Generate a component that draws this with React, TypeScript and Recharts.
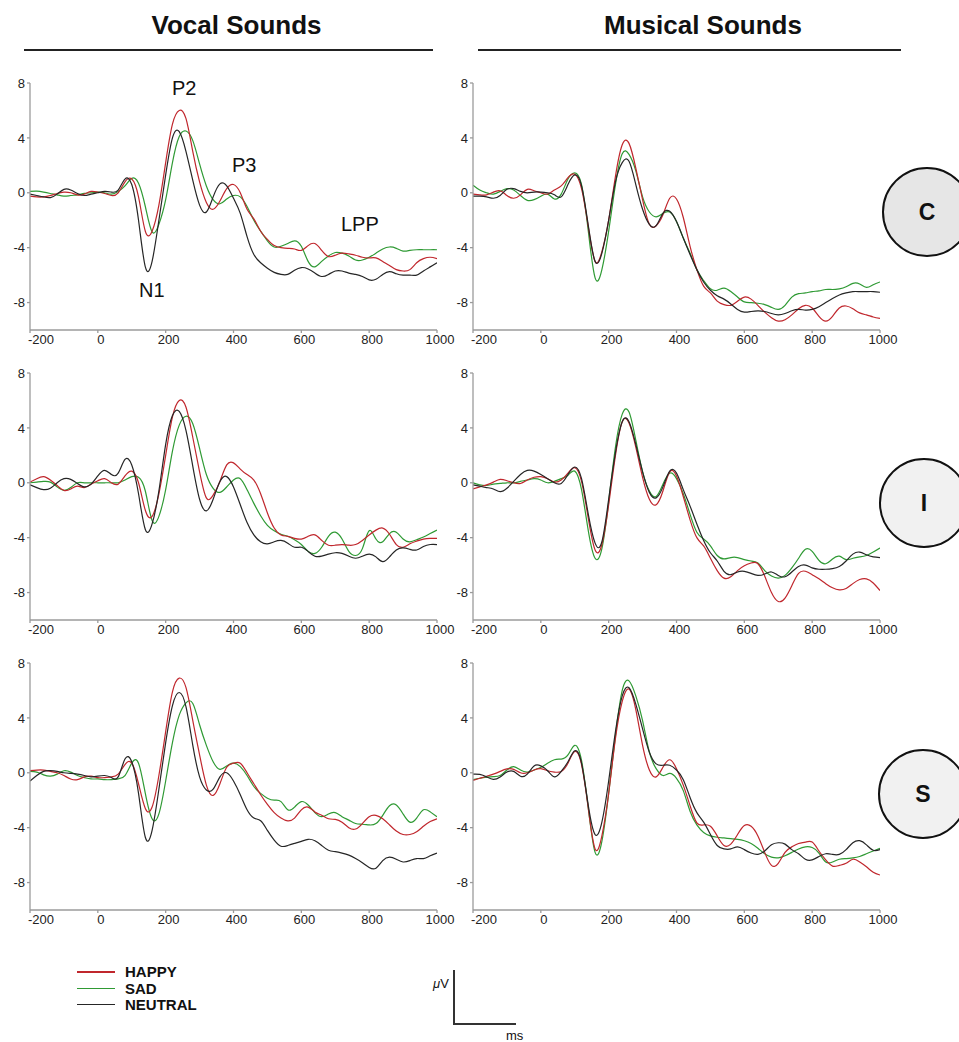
import { LineChart, Line, XAxis, YAxis } from 'recharts'

// time axis (ms), sampled every 20 ms
const TIMES = [
  -200, -180, -160, -140, -120, -100, -80, -60, -40, -20,
  0, 20, 40, 60, 80, 100, 120, 140, 160, 180,
  200, 220, 240, 260, 280, 300, 320, 340, 360, 380,
  400, 420, 440, 460, 480, 500, 520, 540, 560, 580,
  600, 620, 640, 660, 680, 700, 720, 740, 760, 780,
  800, 820, 840, 860, 880, 900, 920, 940, 960, 980, 1000,
]
const X_TICKS = [-200, 0, 200, 400, 600, 800, 1000]
const Y_TICKS = [-8, -4, 0, 4, 8]

// Vocal – C
const VOCAL_C_HAPPY = [
  -0.25, -0.3, -0.3, -0.2, -0.05, 0.05, 0.0, -0.15, -0.1, 0.1,
  0.05, -0.05, -0.2, 0.0, 0.8, 1.0, -0.3, -2.8, -2.8, -0.9,
  2.2, 5.0, 6.0, 5.4, 3.0, 0.8, -0.7, -1.2, -0.6, 0.3,
  0.6, 0.0, -1.2, -1.9, -2.8, -3.4, -3.85, -4.0, -4.05, -4.1,
  -4.2, -3.85, -3.7, -4.2, -4.65, -4.55, -4.4, -4.45, -4.55, -4.7,
  -4.75, -4.75, -5.0, -5.3, -5.6, -5.7, -5.6, -5.1, -4.8, -4.7, -4.8,
]
const VOCAL_C_SAD = [
  0.1, 0.12, 0.05, -0.05, -0.15, -0.25, -0.2, -0.15, -0.05, 0.0,
  0.05, 0.0, -0.1, 0.1, 0.5, 1.05, 0.7, -1.0, -2.85, -2.3,
  -0.5, 2.2, 4.1, 4.5, 3.8, 2.1, 0.5, -0.5, -0.8, -0.45,
  -0.2, -0.3, -1.0, -2.0, -2.8, -3.5, -3.95, -3.9, -3.7, -3.5,
  -3.9, -5.0, -5.4, -5.0, -4.6, -4.35, -4.4, -4.6, -4.9, -4.9,
  -4.7, -4.4, -4.1, -3.95, -4.05, -4.25, -4.2, -4.15, -4.15, -4.15, -4.15,
]
const VOCAL_C_NEUTRAL = [
  -0.1, -0.2, -0.3, -0.35, -0.1, 0.25, 0.2, -0.05, -0.2, -0.1,
  0.0, 0.1, 0.05, 0.2, 1.0, 0.6, -2.0, -5.4, -5.0, -2.0,
  1.3, 4.0, 4.45, 3.0, 0.9, -0.9, -1.4, -0.3, 0.65, 0.5,
  -0.4, -1.5, -3.2, -4.5, -5.1, -5.5, -5.8, -5.95, -5.95, -5.65,
  -5.45, -5.55, -5.85, -6.1, -5.95, -5.7, -5.7, -5.85, -5.95, -6.1,
  -6.35, -6.3, -5.95, -5.75, -5.9, -6.0, -6.0, -6.0, -5.7, -5.4, -5.1,
]

// Musical – C
const MUSIC_C_HAPPY = [
  -0.1, -0.15, -0.15, 0.05, 0.15, -0.2, -0.4, -0.15, 0.25, 0.15,
  0.0, -0.1, 0.2, 0.5, 1.1, 1.35, 0.3, -2.5, -5.0, -4.3,
  -2.0, 1.2, 3.5, 3.6, 1.8, -0.5, -2.3, -2.4, -1.6, -0.4,
  -0.45, -1.8, -3.9, -5.6, -6.8, -7.3, -7.9, -8.15, -8.2, -7.9,
  -7.6, -7.75, -8.2, -8.7, -9.1, -9.35, -9.25, -8.9, -8.45, -8.2,
  -8.4, -9.0, -9.35, -9.0, -8.4, -8.25, -8.45, -8.75, -8.9, -9.05, -9.15,
]
const MUSIC_C_SAD = [
  0.55, 0.2, 0.0, -0.1, 0.1, 0.3, 0.2, -0.2, -0.55, -0.5,
  -0.25, -0.1, -0.45, -0.1, 1.0, 1.45, 0.6, -2.8, -6.2, -5.6,
  -2.8, 0.6, 2.85, 2.8, 1.6, -0.3, -1.4, -1.75, -1.5, -1.4,
  -2.1, -3.3, -4.4, -5.6, -6.4, -7.0, -7.1, -6.95, -7.2, -7.6,
  -7.95, -8.0, -8.05, -8.15, -8.35, -8.5, -8.2, -7.6, -7.35, -7.3,
  -7.2, -7.15, -7.05, -7.05, -7.0, -6.85, -6.6, -6.65, -6.9, -6.7, -6.5,
]
const MUSIC_C_NEUTRAL = [
  -0.25, -0.25, -0.3, -0.4, -0.2, 0.25, 0.3, 0.1, 0.0, 0.05,
  0.05, 0.0, -0.15, -0.3, 0.6, 1.3, 0.5, -2.4, -5.0, -4.4,
  -2.0, 0.8, 2.2, 2.3, 0.6, -1.2, -2.3, -2.4, -1.5, -1.35,
  -2.1, -3.3, -4.5, -5.6, -6.5, -7.1, -7.5, -7.75, -8.1, -8.5,
  -8.7, -8.65, -8.6, -8.65, -8.8, -8.9, -8.8, -8.6, -8.5, -8.55,
  -8.5, -8.3, -8.0, -7.7, -7.45, -7.3, -7.2, -7.2, -7.2, -7.2, -7.25,
]

// Vocal – I
const VOCAL_I_HAPPY = [
  0.05, 0.3, 0.45, 0.2, -0.2, -0.55, -0.45, -0.25, -0.35, -0.1,
  0.15, 0.3, 0.0, -0.1, 0.5, 0.85, 0.0, -2.0, -2.45, -0.8,
  2.0, 4.8, 6.0, 5.5, 3.3, 0.8, -1.1, -0.9, 0.1, 1.3,
  1.45, 1.0, 0.6, 0.2, -0.8, -2.2, -3.3, -3.8, -3.9, -4.05,
  -4.1, -3.9, -3.8, -4.2, -4.55, -4.55, -4.5, -4.55, -4.5, -4.2,
  -3.8, -3.45, -3.3, -3.75, -4.5, -4.7, -4.45, -4.25, -4.1, -4.05, -4.05,
]
const VOCAL_I_SAD = [
  0.0, 0.05, 0.1, 0.05, -0.3, -0.55, -0.35, 0.0, 0.0, 0.0,
  0.0, 0.0, 0.0, 0.0, 0.2, 0.45, 0.4, -0.6, -2.75, -2.45,
  -0.5, 2.3, 4.2, 4.85, 4.3, 2.5, 0.6, -0.4, -0.7, -0.3,
  0.2, 0.3, -0.5, -1.5, -2.4, -3.1, -3.5, -3.75, -3.9, -4.15,
  -4.5, -5.0, -5.15, -4.7, -3.9, -3.6, -4.1, -5.0, -5.3, -4.8,
  -3.5, -4.1, -4.3, -3.7, -3.6, -4.1, -4.3, -4.15, -3.95, -3.7, -3.45,
]
const VOCAL_I_NEUTRAL = [
  -0.15, -0.35, -0.5, -0.4, 0.0, 0.3, 0.25, -0.05, -0.3, -0.1,
  0.5, 0.9, 0.6, 0.7, 1.7, 1.3, -0.8, -3.4, -3.0, -0.6,
  2.8, 4.9, 5.2, 3.8, 1.2, -1.2, -2.05, -1.2, 0.1, 0.45,
  -0.3, -1.6, -2.9, -3.8, -4.3, -4.45, -4.3, -4.2, -4.4, -4.7,
  -4.7, -5.0, -5.35, -5.35, -5.2, -5.1, -5.15, -5.35, -5.5, -5.35,
  -5.2, -5.4, -5.75, -5.4, -4.9, -4.75, -4.85, -4.9, -4.65, -4.5, -4.5,
]

// Musical – I
const MUSIC_I_HAPPY = [
  -0.45, -0.3, -0.15, 0.05, 0.25, 0.15, 0.0, -0.05, 0.2, 0.4,
  0.45, 0.3, 0.05, 0.2, 0.7, 1.1, 0.1, -2.6, -4.9, -4.5,
  -1.6, 2.0, 4.45, 4.35, 2.6, 0.4, -1.2, -1.6, -0.6, 0.8,
  0.5, -1.0, -2.7, -4.0, -4.6, -5.5, -6.4, -6.95, -6.85, -6.4,
  -6.05, -5.85, -5.9, -6.8, -8.0, -8.65, -8.4, -7.5, -6.6, -6.45,
  -6.7, -7.0, -7.35, -7.65, -7.8, -7.7, -7.35, -7.05, -7.0, -7.3, -7.85,
]
const MUSIC_I_SAD = [
  0.0, -0.15, -0.2, -0.1, -0.05, 0.0, 0.0, 0.1, 0.2, 0.3,
  0.2, 0.0, 0.1, 0.3, 0.55, 0.85, -0.5, -3.5, -5.5, -4.8,
  -1.4, 2.6, 5.0, 5.15, 3.1, 0.8, -0.6, -1.0, -0.1, 0.7,
  0.3, -0.8, -2.3, -3.6, -4.1, -4.6, -5.3, -5.55, -5.45, -5.45,
  -5.6, -5.7, -5.85, -6.4, -6.8, -6.95, -6.75, -6.2, -5.5, -4.85,
  -5.0, -5.65, -5.9, -5.55, -5.35, -5.6, -5.5, -5.4, -5.3, -5.05, -4.75,
]
const MUSIC_I_NEUTRAL = [
  -0.15, -0.25, -0.35, -0.45, -0.65, -0.4, 0.1, 0.6, 0.9, 0.85,
  0.6, 0.3, 0.0, -0.05, 0.6, 1.15, 0.3, -2.3, -4.4, -4.3,
  -1.2, 2.2, 4.45, 4.45, 2.8, 0.8, -0.7, -1.1, -0.3, 0.85,
  0.7, -0.5, -1.7, -3.0, -4.2, -5.1, -5.7, -6.45, -6.7, -6.5,
  -6.45, -6.6, -6.75, -6.65, -6.5, -6.75, -6.85, -6.5, -6.1, -6.0,
  -6.2, -6.3, -6.3, -6.25, -6.1, -5.7, -5.2, -5.05, -5.25, -5.4, -5.45,
]

// Vocal – S
const VOCAL_S_HAPPY = [
  0.15, 0.2, 0.2, 0.1, 0.0, -0.2, -0.45, -0.5, -0.3, -0.25,
  -0.35, -0.35, -0.3, -0.1, 0.6, 0.7, -0.8, -2.6, -2.5, -0.2,
  3.0, 5.9, 6.9, 6.2, 3.8, 1.3, -0.9, -1.65, -0.8, 0.4,
  0.7, 0.7, 0.0, -0.8, -1.6, -2.3, -2.9, -3.3, -3.5, -3.3,
  -2.7, -2.5, -2.85, -3.1, -3.35, -3.4, -3.6, -4.0, -4.1, -3.7,
  -3.2, -3.1, -3.35, -3.8, -4.25, -4.5, -4.5, -4.3, -3.9, -3.55, -3.35,
]
const VOCAL_S_SAD = [
  0.1, 0.05, -0.15, -0.25, -0.1, 0.15, 0.05, -0.2, -0.35, -0.45,
  -0.45, -0.5, -0.5, -0.45, -0.2, 0.7, 0.7, -1.5, -3.35, -3.0,
  -0.6, 2.2, 4.2, 5.1, 5.05, 3.5, 2.0, 0.8, 0.25, 0.5,
  0.7, 0.45, -0.2, -1.0, -1.5, -1.85, -2.0, -2.1, -2.7, -2.5,
  -2.1, -2.35, -2.9, -3.2, -3.0, -2.9, -3.2, -3.45, -3.7, -3.75,
  -3.8, -3.7, -3.1, -2.4, -2.35, -3.0, -3.6, -3.3, -2.7, -2.85, -3.2,
]
const VOCAL_S_NEUTRAL = [
  -0.6, -0.2, 0.1, 0.15, 0.1, 0.0, -0.05, -0.1, -0.2, -0.3,
  -0.25, -0.2, -0.35, -0.3, 1.0, 0.8, -1.5, -4.7, -4.2, -1.2,
  2.2, 4.9, 5.85, 4.8, 2.0, -0.3, -1.25, -1.2, -0.3, 0.0,
  -0.6, -1.6, -2.7, -3.3, -3.5, -4.2, -4.9, -5.35, -5.3, -5.15,
  -5.0, -4.85, -4.95, -5.3, -5.65, -5.75, -5.85, -6.0, -6.25, -6.55,
  -6.9, -6.95, -6.4, -6.15, -6.3, -6.5, -6.4, -6.25, -6.25, -6.05, -5.85,
]

// Musical – S
const MUSIC_S_HAPPY = [
  -0.55, -0.4, -0.25, -0.1, 0.1, 0.28, 0.25, 0.0, 0.0, 0.2,
  0.3, 0.15, 0.05, 0.1, 0.7, 1.55, 0.6, -2.6, -5.55, -4.6,
  -1.5, 2.5, 5.2, 6.1, 4.6, 2.0, 0.2, -0.3, 0.4, 0.95,
  0.3, -0.9, -2.4, -3.65, -3.8, -3.9, -4.6, -5.3, -5.2, -4.5,
  -3.85, -3.9, -4.6, -5.8, -6.75, -6.6, -5.8, -5.4, -5.15, -5.05,
  -5.05, -5.7, -6.35, -6.8, -6.75, -6.6, -6.3, -6.5, -6.85, -7.25, -7.45,
]
const MUSIC_S_SAD = [
  -0.5, -0.4, -0.32, -0.28, -0.2, 0.2, 0.45, 0.2, 0.05, 0.2,
  0.4, 0.7, 0.95, 1.0, 1.3, 2.0, 0.9, -2.6, -5.8, -5.0,
  -1.5, 2.7, 6.0, 6.7, 5.6, 3.8, 1.5, 0.3, -0.2, -0.05,
  -0.4, -1.3, -2.8, -3.8, -4.35, -4.6, -4.7, -4.75, -4.8, -4.85,
  -4.95, -5.15, -5.5, -5.9, -6.15, -6.2, -6.05, -5.8, -5.55, -5.4,
  -5.45, -5.85, -6.5, -6.5, -6.3, -6.25, -6.2, -6.1, -5.9, -5.7, -5.5,
]
const MUSIC_S_NEUTRAL = [
  -0.1, -0.12, -0.3, -0.48, -0.3, 0.05, 0.1, -0.25, -0.1, 0.5,
  0.5, 0.15, -0.3, 0.1, 0.8, 1.6, 0.7, -2.4, -4.5, -3.6,
  -0.6, 3.0, 5.6, 6.2, 5.0, 3.2, 1.5, 0.65, 0.55, 0.55,
  0.2, -0.5, -1.8, -2.9, -3.6, -4.5, -5.3, -5.55, -5.55, -5.4,
  -5.6, -5.85, -5.95, -5.7, -5.25, -5.1, -5.2, -5.6, -5.9, -6.3,
  -6.35, -6.1, -5.9, -5.95, -5.95, -5.6, -5.1, -4.95, -5.25, -5.65, -5.6,
]

const COLORS = { happy: '#c0272d', sad: '#2f9a34', neutral: '#262626' }
const AXIS_COLOR = '#9b9b9b'
const FONT = '"Liberation Sans", Arial, Helvetica, sans-serif'

function buildRows(happy: number[], sad: number[], neutral: number[]) {
  return TIMES.map((t, i) => ({ t, happy: happy[i], sad: sad[i], neutral: neutral[i] }))
}

function XTick({ x, y, payload }: any) {
  const first = payload.value === -200
  return (
    <text
      x={first ? x - 2 : x + 3}
      y={y}
      dy="0.71em"
      textAnchor={first ? 'start' : 'middle'}
      fontSize={13}
      fontFamily={FONT}
      fill="#222"
    >
      {payload.value}
    </text>
  )
}

function ErpPanel({ happy, sad, neutral }: { happy: number[]; sad: number[]; neutral: number[] }) {
  const data = buildRows(happy, sad, neutral)
  return (
    <LineChart width={460} height={295} data={data} margin={{ top: 23, right: 23, bottom: 5, left: 0 }}>
      <XAxis
        dataKey="t"
        type="number"
        domain={[-200, 1000]}
        ticks={X_TICKS}
        allowDataOverflow
        height={20}
        stroke={AXIS_COLOR}
        strokeWidth={1.3}
        tickSize={3}
        tickMargin={2}
        tick={<XTick />}
      />
      <YAxis
        type="number"
        domain={[-10, 8]}
        ticks={Y_TICKS}
        width={30}
        stroke={AXIS_COLOR}
        strokeWidth={1.3}
        tickSize={3}
        tickMargin={2}
        tick={{ fontSize: 13, fill: '#222', fontFamily: FONT }}
      />
      <Line dataKey="sad" type="natural" stroke={COLORS.sad} strokeWidth={1.2} dot={false} activeDot={false} isAnimationActive={false} />
      <Line dataKey="happy" type="natural" stroke={COLORS.happy} strokeWidth={1.2} dot={false} activeDot={false} isAnimationActive={false} />
      <Line dataKey="neutral" type="natural" stroke={COLORS.neutral} strokeWidth={1.2} dot={false} activeDot={false} isAnimationActive={false} />
    </LineChart>
  )
}

function Site({ letter, left, top, fill }: { letter: string; left: number; top: number; fill: string }) {
  return (
    <div
      style={{
        position: 'absolute', left, top, width: 90, height: 90, boxSizing: 'border-box',
        borderRadius: '50%', border: '2px solid #111', background: fill,
        display: 'flex', alignItems: 'center', justifyContent: 'center',
        fontWeight: 700, fontSize: 23, color: '#111',
      }}
    >
      {letter}
    </div>
  )
}

const abs = (left: number, top: number): React.CSSProperties => ({ position: 'absolute', left, top })

export default function App() {
  const rowTops = [60, 350, 640]
  const leftCol = 0
  const rightCol = 443
  const panels = [
    [VOCAL_C_HAPPY, VOCAL_C_SAD, VOCAL_C_NEUTRAL, MUSIC_C_HAPPY, MUSIC_C_SAD, MUSIC_C_NEUTRAL],
    [VOCAL_I_HAPPY, VOCAL_I_SAD, VOCAL_I_NEUTRAL, MUSIC_I_HAPPY, MUSIC_I_SAD, MUSIC_I_NEUTRAL],
    [VOCAL_S_HAPPY, VOCAL_S_SAD, VOCAL_S_NEUTRAL, MUSIC_S_HAPPY, MUSIC_S_SAD, MUSIC_S_NEUTRAL],
  ]

  return (
    <div style={{ position: 'absolute', left: 0, top: 0, width: 959, height: 1042, background: '#fff', fontFamily: FONT, color: '#111', overflow: 'hidden' }}>
      {/* column headers */}
      <div style={{ ...abs(0, 12), width: 473, textAlign: 'center', fontSize: 26, fontWeight: 700, lineHeight: '26px' }}>Vocal Sounds</div>
      <div style={{ ...abs(503, 12), width: 400, textAlign: 'center', fontSize: 26, fontWeight: 700, lineHeight: '26px' }}>Musical Sounds</div>
      <div style={{ ...abs(24, 49), width: 409, height: 2, background: '#222' }} />
      <div style={{ ...abs(478, 49), width: 423, height: 2, background: '#222' }} />

      {panels.map((p, r) => (
        <div key={r}>
          <div style={abs(leftCol, rowTops[r])}>
            <ErpPanel happy={p[0]} sad={p[1]} neutral={p[2]} />
          </div>
          <div style={abs(rightCol, rowTops[r])}>
            <ErpPanel happy={p[3]} sad={p[4]} neutral={p[5]} />
          </div>
        </div>
      ))}

      {/* component labels on the first panel */}
      <div style={{ ...abs(172, 78), fontSize: 20, lineHeight: '20px' }}>P2</div>
      <div style={{ ...abs(232, 155), fontSize: 20, lineHeight: '20px' }}>P3</div>
      <div style={{ ...abs(139, 280), fontSize: 20, lineHeight: '20px' }}>N1</div>
      <div style={{ ...abs(341, 214), fontSize: 20, lineHeight: '20px' }}>LPP</div>

      {/* electrode sites */}
      <Site letter="C" left={882} top={167} fill="#e6e6e6" />
      <Site letter="I" left={879} top={458} fill="#f1f1f1" />
      <Site letter="S" left={878} top={749} fill="#f1f1f1" />

      {/* legend */}
      {([
        ['HAPPY', COLORS.happy, 964],
        ['SAD', COLORS.sad, 980.5],
        ['NEUTRAL', COLORS.neutral, 996.5],
      ] as [string, string, number][]).map(([label, color, top]) => (
        <div key={label}>
          <div style={{ ...abs(77, top + 7), width: 38, height: 1.5, background: color }} />
          <div style={{ ...abs(125, top), fontSize: 15, fontWeight: 700, lineHeight: '15px' }}>{label}</div>
        </div>
      ))}

      {/* scale bar */}
      <div style={{ ...abs(433, 977), fontSize: 13, lineHeight: '13px' }}><i>μ</i>V</div>
      <div style={{ ...abs(453, 970), width: 2, height: 55, background: '#333' }} />
      <div style={{ ...abs(453, 1023), width: 63, height: 2, background: '#333' }} />
      <div style={{ ...abs(506, 1029), fontSize: 13, lineHeight: '13px' }}>ms</div>
    </div>
  )
}
